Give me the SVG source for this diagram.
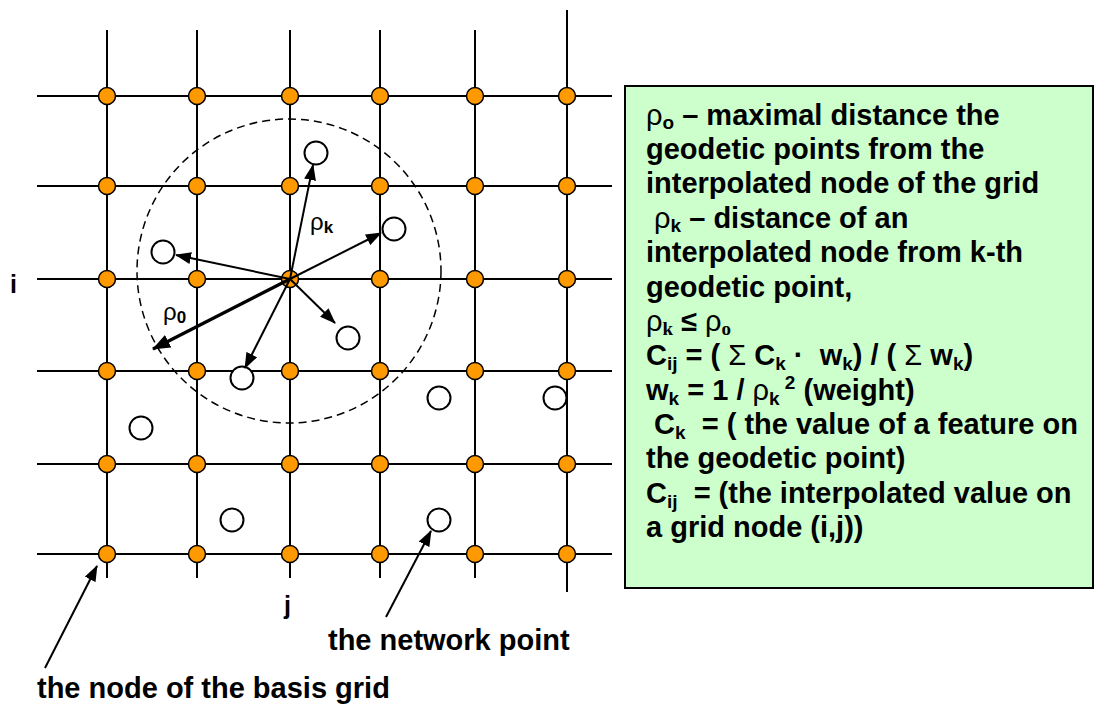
<svg xmlns="http://www.w3.org/2000/svg" width="1096" height="709" viewBox="0 0 1096 709">
<style>
.grid{stroke:#000;stroke-width:2;fill:none}
.node{fill:#FF9900;stroke:#000;stroke-width:1.5}
.pt{fill:#fff;stroke:#000;stroke-width:2}
.arr{stroke:#000;stroke-width:2;fill:none;marker-end:url(#ah)}
.arr3{stroke:#000;stroke-width:3.2;fill:none;marker-end:url(#ah2)}
.t{font-family:"Liberation Sans",Arial,sans-serif;font-weight:bold;fill:#000}
.bt{font-family:"Liberation Sans",Arial,sans-serif;font-weight:bold;font-size:29px;fill:#000;white-space:pre}
.n{font-weight:normal}
.sub{font-size:19px}
.ser{font-family:"Liberation Serif","Times New Roman",serif;font-weight:bold}
</style>
<defs>
<marker id="ah" markerWidth="16" markerHeight="12" refX="15" refY="6" orient="auto" markerUnits="userSpaceOnUse">
<path d="M0,0 L16,6 L0,12 Z" fill="#000"/>
</marker>
<marker id="ah2" markerWidth="18" markerHeight="14" refX="17" refY="7" orient="auto" markerUnits="userSpaceOnUse">
<path d="M0,0 L18,7 L0,14 Z" fill="#000"/>
</marker>
</defs>
<rect width="1096" height="709" fill="#fff"/>

<g id="grid">
<line class="grid" x1="37" y1="96" x2="612" y2="96"/>
<line class="grid" x1="37" y1="186" x2="612" y2="186"/>
<line class="grid" x1="37" y1="279" x2="612" y2="279"/>
<line class="grid" x1="37" y1="371" x2="612" y2="371"/>
<line class="grid" x1="37" y1="464" x2="612" y2="464"/>
<line class="grid" x1="37" y1="554" x2="612" y2="554"/>
<line class="grid" x1="107" y1="30" x2="107" y2="578"/>
<line class="grid" x1="197" y1="30" x2="197" y2="578"/>
<line class="grid" x1="290" y1="30" x2="290" y2="578"/>
<line class="grid" x1="380" y1="30" x2="380" y2="578"/>
<line class="grid" x1="475" y1="30" x2="475" y2="578"/>
<line class="grid" x1="567" y1="10" x2="567" y2="592"/>
</g>

<g id="range-circle">
<circle cx="289" cy="271" r="152" fill="none" stroke="#000" stroke-width="1.5" stroke-dasharray="8,5"/>
</g>

<g id="grid-nodes">
<circle class="node" cx="107" cy="96" r="8.5"/><circle class="node" cx="197" cy="96" r="8.5"/><circle class="node" cx="290" cy="96" r="8.5"/><circle class="node" cx="380" cy="96" r="8.5"/><circle class="node" cx="475" cy="96" r="8.5"/><circle class="node" cx="567" cy="96" r="8.5"/>
<circle class="node" cx="107" cy="186" r="8.5"/><circle class="node" cx="197" cy="186" r="8.5"/><circle class="node" cx="290" cy="186" r="8.5"/><circle class="node" cx="380" cy="186" r="8.5"/><circle class="node" cx="475" cy="186" r="8.5"/><circle class="node" cx="567" cy="186" r="8.5"/>
<circle class="node" cx="107" cy="279" r="8.5"/><circle class="node" cx="197" cy="279" r="8.5"/><circle class="node" cx="290" cy="279" r="8.5"/><circle class="node" cx="380" cy="279" r="8.5"/><circle class="node" cx="475" cy="279" r="8.5"/><circle class="node" cx="567" cy="279" r="8.5"/>
<circle class="node" cx="107" cy="371" r="8.5"/><circle class="node" cx="197" cy="371" r="8.5"/><circle class="node" cx="290" cy="371" r="8.5"/><circle class="node" cx="380" cy="371" r="8.5"/><circle class="node" cx="475" cy="371" r="8.5"/><circle class="node" cx="567" cy="371" r="8.5"/>
<circle class="node" cx="107" cy="464" r="8.5"/><circle class="node" cx="197" cy="464" r="8.5"/><circle class="node" cx="290" cy="464" r="8.5"/><circle class="node" cx="380" cy="464" r="8.5"/><circle class="node" cx="475" cy="464" r="8.5"/><circle class="node" cx="567" cy="464" r="8.5"/>
<circle class="node" cx="107" cy="554" r="8.5"/><circle class="node" cx="197" cy="554" r="8.5"/><circle class="node" cx="290" cy="554" r="8.5"/><circle class="node" cx="380" cy="554" r="8.5"/><circle class="node" cx="475" cy="554" r="8.5"/><circle class="node" cx="567" cy="554" r="8.5"/>
</g>

<g id="network-points">
<circle class="pt" cx="316" cy="153" r="11.5"/>
<circle class="pt" cx="394" cy="229" r="11.5"/>
<circle class="pt" cx="163" cy="252" r="11.5"/>
<circle class="pt" cx="348" cy="338" r="11.5"/>
<circle class="pt" cx="242" cy="378" r="11.5"/>
<circle class="pt" cx="439" cy="398" r="11.5"/>
<circle class="pt" cx="555" cy="398" r="11.5"/>
<circle class="pt" cx="141" cy="428" r="11.5"/>
<circle class="pt" cx="232" cy="520" r="11.5"/>
<circle class="pt" cx="439" cy="520" r="11.5"/>
</g>

<g id="connectors">
<line class="arr" x1="290" y1="279" x2="313" y2="165"/>
<line class="arr" x1="290" y1="279" x2="381" y2="233"/>
<line class="arr" x1="290" y1="279" x2="176" y2="255"/>
<line class="arr" x1="290" y1="279" x2="335" y2="323"/>
<line class="arr" x1="290" y1="279" x2="245" y2="368"/>
<line class="arr3" x1="290" y1="279" x2="153" y2="349"/>
<line class="arr" x1="45" y1="668" x2="97" y2="566"/>
<line class="arr" x1="386" y1="617" x2="431" y2="531"/>
</g>

<g id="labels">
<text class="t" x="310" y="230" font-size="24"><tspan class="n">ρ</tspan><tspan font-size="17" dy="3">k</tspan></text>
<text class="t" x="163" y="320" font-size="24"><tspan class="n">ρ</tspan><tspan font-size="17" dy="3">0</tspan></text>
<text class="t" x="10" y="293" font-size="25">i</text>
<text class="t" x="284" y="614" font-size="25">j</text>
<text class="t" x="328" y="650" font-size="29">the network point</text>
<text class="t" x="37" y="698" font-size="29">the node of the basis grid</text>
</g>

<g id="legend-box">
<rect x="625" y="86" width="468" height="502" fill="#CCFFCC" stroke="#000" stroke-width="2"/>
<text class="bt" x="646" y="125"><tspan class="n">ρ</tspan><tspan class="sub" dy="4">o</tspan><tspan dy="-4"> – maximal distance the</tspan></text>
<text class="bt" x="646" y="159">geodetic points from the</text>
<text class="bt" x="646" y="193">interpolated node of the grid</text>
<text class="bt" x="646" y="228"> <tspan class="n">ρ</tspan><tspan class="sub" dy="4">k</tspan><tspan dy="-4"> – distance of an</tspan></text>
<text class="bt" x="646" y="262">interpolated node from k-th</text>
<text class="bt" x="646" y="297">geodetic point,</text>
<text class="bt" x="646" y="331"><tspan class="n">ρ</tspan><tspan class="sub ser" dy="4">k</tspan><tspan dy="-4"> ≤ </tspan><tspan class="n">ρ</tspan><tspan class="sub ser" dy="4">o</tspan></text>
<text class="bt" x="646" y="365">C<tspan class="sub" dy="5">ij</tspan><tspan dy="-5"> = ( </tspan><tspan class="n">Σ</tspan> C<tspan class="sub" dy="5">k</tspan><tspan dy="-5"> ·  w</tspan><tspan class="sub" dy="5">k</tspan><tspan dy="-5">) / ( </tspan><tspan class="n">Σ</tspan> w<tspan class="sub" dy="5">k</tspan><tspan dy="-5">)</tspan></text>
<text class="bt" x="646" y="400">w<tspan class="sub" dy="5">k</tspan><tspan dy="-5"> = 1 / </tspan><tspan class="n">ρ</tspan><tspan class="sub" dy="5">k</tspan><tspan class="sub" dy="-16"> 2</tspan><tspan dy="11"> (weight)</tspan></text>
<text class="bt" x="646" y="434"> C<tspan class="sub" dy="5">k</tspan><tspan dy="-5">  = ( the value of a feature on</tspan></text>
<text class="bt" x="646" y="468">the geodetic point)</text>
<text class="bt" x="646" y="503">C<tspan class="sub" dy="5">ij</tspan><tspan dy="-5">  = (the interpolated value on</tspan></text>
<text class="bt" x="646" y="537">a grid node (i,j))</text>
</g>
</svg>
